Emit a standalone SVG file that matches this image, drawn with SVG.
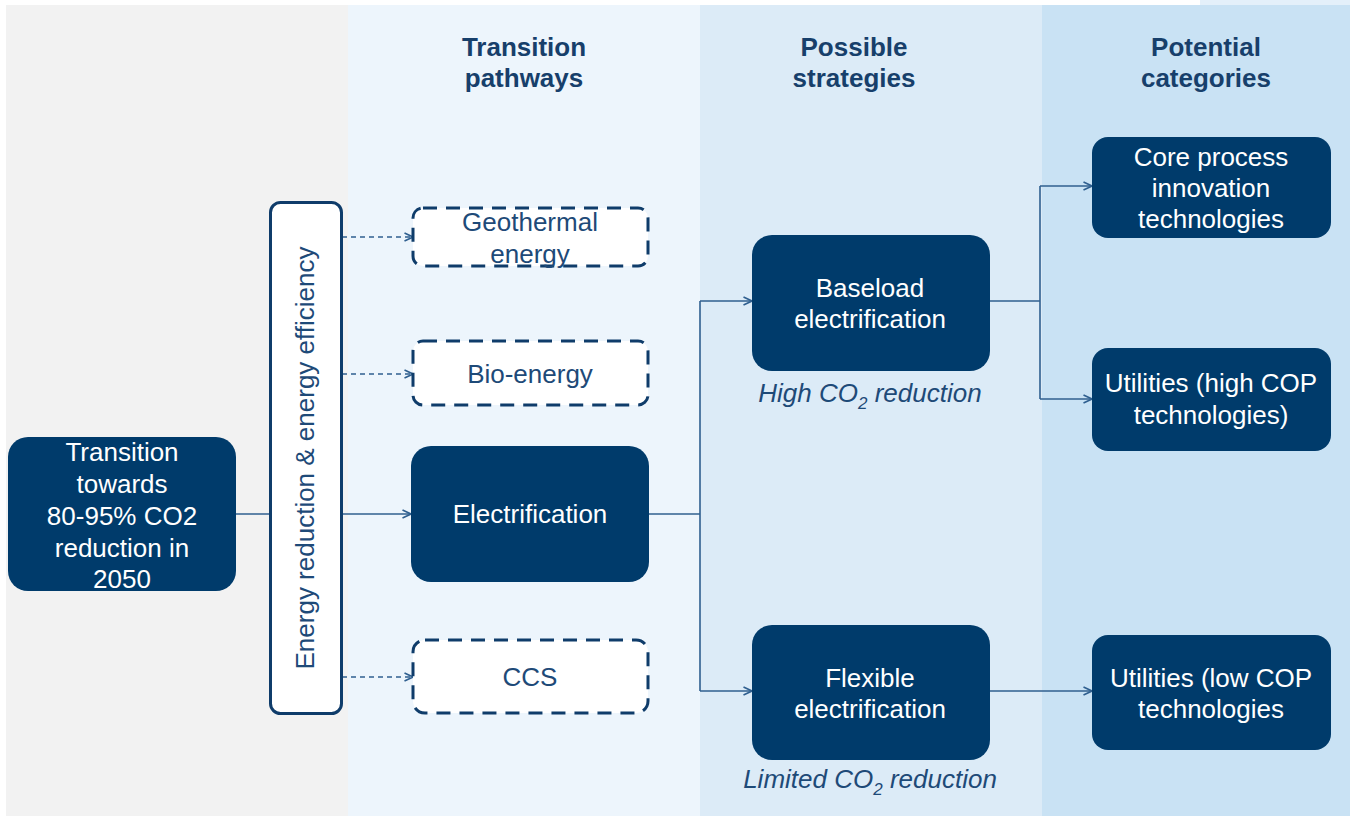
<svg xmlns="http://www.w3.org/2000/svg" width="1350" height="816" viewBox="0 0 1350 816">
  <defs>
    <marker id="arr" viewBox="0 0 10 10" refX="9.5" refY="5" markerWidth="10" markerHeight="10" markerUnits="userSpaceOnUse" orient="auto">
      <path d="M1,1 L9.5,5 L1,9" fill="none" stroke="#2f5f8f" stroke-width="1.6"/>
    </marker>
    <style>
      .hdr { font-family: "Liberation Sans", Arial, sans-serif; font-size: 26px; font-weight: bold; fill: #173f6b; text-anchor: middle; }
      .solid { fill: #003b6b; }
      .wt { font-family: "Liberation Sans", Arial, sans-serif; font-size: 26px; fill: #ffffff; text-anchor: middle; }
      .dash { fill: #ffffff; stroke: #0f3c6a; stroke-width: 3; stroke-dasharray: 14 9; }
      .dt { font-family: "Liberation Sans", Arial, sans-serif; font-size: 26px; fill: #1e4a78; text-anchor: middle; }
      .it { font-family: "Liberation Sans", Arial, sans-serif; font-size: 26px; font-style: italic; fill: #1e4a78; text-anchor: middle; }
      .ln { fill: none; stroke: #2f5f8f; stroke-width: 1.6; }
      .dl { fill: none; stroke: #2f5f8f; stroke-width: 1.6; stroke-dasharray: 5 4; }
    </style>
  </defs>

  <!-- column backgrounds -->
  <rect x="0" y="0" width="1350" height="816" fill="#ffffff"/>
  <rect x="1200" y="0" width="150" height="6" fill="#e4f0fa"/>
  <rect x="6" y="5" width="342" height="811" fill="#f2f2f2"/>
  <rect x="348" y="5" width="352" height="811" fill="#edf5fc"/>
  <rect x="700" y="5" width="342" height="811" fill="#dcebf7"/>
  <rect x="1042" y="5" width="308" height="811" fill="#c9e2f4"/>

  <!-- column headers -->
  <text class="hdr" x="524" y="56">Transition</text>
  <text class="hdr" x="524" y="87">pathways</text>
  <text class="hdr" x="854" y="56">Possible</text>
  <text class="hdr" x="854" y="87">strategies</text>
  <text class="hdr" x="1206" y="56">Potential</text>
  <text class="hdr" x="1206" y="87">categories</text>

  <!-- connectors -->
  <g id="connectors">
    <path class="ln" d="M236,514 H270"/>
    <path class="ln" d="M342,514 H411" marker-end="url(#arr)"/>
    <path class="dl" d="M342,237 H413" marker-end="url(#arr)"/>
    <path class="dl" d="M342,374 H413" marker-end="url(#arr)"/>
    <path class="dl" d="M342,677 H413" marker-end="url(#arr)"/>
    <path class="ln" d="M649,514 H700"/>
    <path class="ln" d="M700,301 V691"/>
    <path class="ln" d="M700,301 H752" marker-end="url(#arr)"/>
    <path class="ln" d="M700,691 H752" marker-end="url(#arr)"/>
    <path class="ln" d="M990,301 H1040"/>
    <path class="ln" d="M1040,186 V399"/>
    <path class="ln" d="M1040,186 H1092" marker-end="url(#arr)"/>
    <path class="ln" d="M1040,399 H1092" marker-end="url(#arr)"/>
    <path class="ln" d="M990,691 H1092" marker-end="url(#arr)"/>
  </g>

  <!-- start node -->
  <g id="goal">
    <rect class="solid" x="8" y="437" width="228" height="154" rx="20"/>
    <text class="wt" x="122" y="461">Transition</text>
    <text class="wt" x="122" y="493">towards</text>
    <text class="wt" x="122" y="525">80-95% CO2</text>
    <text class="wt" x="122" y="557">reduction in</text>
    <text class="wt" x="122" y="588">2050</text>
  </g>

  <!-- efficiency bar -->
  <g id="efficiency">
    <rect x="270.5" y="202.5" width="71" height="511" rx="10" fill="#ffffff" stroke="#0f3c6a" stroke-width="3"/>
    <text class="dt" transform="translate(314,458) rotate(-90)" x="0" y="0">Energy reduction &amp; energy efficiency</text>
  </g>

  <!-- transition pathways -->
  <g id="geothermal">
    <rect class="dash" x="413" y="208" width="235" height="58" rx="10"/>
    <text class="dt" x="530" y="231">Geothermal</text>
    <text class="dt" x="530" y="263">energy</text>
  </g>
  <g id="bioenergy">
    <rect class="dash" x="413" y="341" width="235" height="64" rx="10"/>
    <text class="dt" x="530" y="383">Bio-energy</text>
  </g>
  <g id="electrification">
    <rect class="solid" x="411" y="446" width="238" height="136" rx="20"/>
    <text class="wt" x="530" y="523">Electrification</text>
  </g>
  <g id="ccs">
    <rect class="dash" x="413" y="640" width="235" height="73" rx="12"/>
    <text class="dt" x="530" y="686">CCS</text>
  </g>

  <!-- strategies -->
  <g id="baseload">
    <rect class="solid" x="752" y="235" width="238" height="136" rx="20"/>
    <text class="wt" x="870" y="297">Baseload</text>
    <text class="wt" x="870" y="328">electrification</text>
    <text class="it" x="870" y="402">High CO<tspan font-size="17" dy="7">2</tspan><tspan dy="-7"> reduction</tspan></text>
  </g>
  <g id="flexible">
    <rect class="solid" x="752" y="625" width="238" height="135" rx="20"/>
    <text class="wt" x="870" y="687">Flexible</text>
    <text class="wt" x="870" y="718">electrification</text>
    <text class="it" x="870" y="788">Limited CO<tspan font-size="17" dy="7">2</tspan><tspan dy="-7"> reduction</tspan></text>
  </g>

  <!-- categories -->
  <g id="core-process">
    <rect class="solid" x="1092" y="137" width="239" height="101" rx="16"/>
    <text class="wt" x="1211" y="166">Core process</text>
    <text class="wt" x="1211" y="197">innovation</text>
    <text class="wt" x="1211" y="228">technologies</text>
  </g>
  <g id="utilities-high">
    <rect class="solid" x="1092" y="348" width="239" height="103" rx="16"/>
    <text class="wt" x="1211" y="392">Utilities (high COP</text>
    <text class="wt" x="1211" y="424">technologies)</text>
  </g>
  <g id="utilities-low">
    <rect class="solid" x="1092" y="635" width="239" height="115" rx="16"/>
    <text class="wt" x="1211" y="687">Utilities (low COP</text>
    <text class="wt" x="1211" y="718">technologies</text>
  </g>
</svg>
